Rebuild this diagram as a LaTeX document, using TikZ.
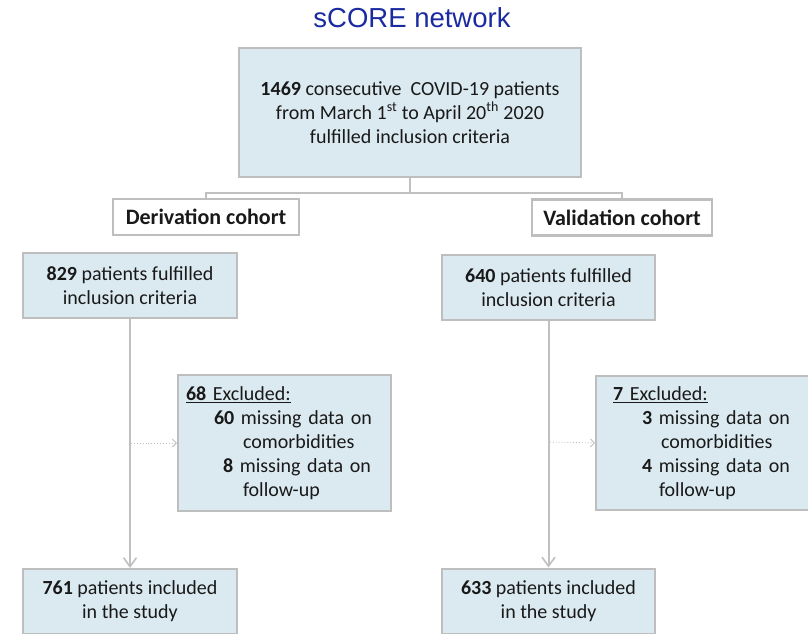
\documentclass[tikz,border=0pt]{standalone}
\usepackage{fontspec}
\setmainfont{Carlito}
\newfontfamily\titlefont{Liberation Sans}
\usetikzlibrary{arrows.meta}

\definecolor{boxfill}{RGB}{219,234,241}
\definecolor{boxline}{RGB}{190,190,190}
\definecolor{linkgray}{RGB}{192,192,192}
\definecolor{titleblue}{RGB}{26,42,160}
\definecolor{ink}{RGB}{25,25,25}

\tikzset{
  x=1pt, y=-1pt,
  flowbox/.style={draw=boxline, line width=2pt, fill=boxfill, text=ink,
    font=\fontsize{20}{24}\selectfont, align=center, inner sep=0pt},
  cohortbox/.style={draw=boxline, line width=2.4pt, fill=white, text=ink,
    font=\fontsize{22}{26}\selectfont\bfseries, inner sep=0pt},
  exclbox/.style={flowbox, align=left},
  link/.style={draw=linkgray, line width=2pt},
  flowarrow/.style={link, -{Straight Barb[length=9pt,width=13pt,line width=1.6pt]}},
  dotarrow/.style={draw=linkgray, line width=0.9pt, dotted,
    -{Straight Barb[length=4pt,width=8pt,line width=0.9pt]}},
}

\begin{document}
\begin{tikzpicture}
\useasboundingbox (0,0) rectangle (808,633);

% title
\node[font=\titlefont\fontsize{27.5}{30}\selectfont, text=titleblue, anchor=base]
  (title) at (412,27) {sCORE network};

% whole cohort
\node[flowbox, minimum width=342pt, minimum height=129pt] (all) at (410,112.5)
  {\textbf{1469} consecutive\ \ COVID-19 patients\\
   from March 1\textsuperscript{st} to April 20\textsuperscript{th} 2020\\
   fulfilled inclusion criteria};

% cohort labels
\node[cohortbox, minimum width=186pt, minimum height=36pt] (deriv) at (206,217) {Derivation cohort};
\node[cohortbox, minimum width=180pt, minimum height=36pt] (valid) at (622,217.5) {Validation cohort};

\coordinate (split) at (410,193);
\draw[link] (all.south) -- (split) -| (deriv.north);
\draw[link] (split) -| (valid.north);

% derivation branch
\node[flowbox, minimum width=214pt, minimum height=65pt] (dIn) at (130,285.5)
  {\textbf{829} patients fulfilled\\ inclusion criteria};
\node[exclbox, minimum width=213pt, minimum height=136pt, text width=197pt] (dEx) at (284.5,443)
  {\underline{\textbf{68} Excluded:}\\
   \hspace*{28pt}\textbf{60} missing data on\\
   \hspace*{57pt}comorbidities\\
   \hspace*{37pt}\textbf{8} missing data on\\
   \hspace*{57pt}follow-up};
\node[flowbox, minimum width=214pt, minimum height=65pt] (dOut) at (130,601.5)
  {\textbf{761} patients included\\ in the study};

\draw[flowarrow] (dIn.south) -- (dOut.north);
\coordinate (dTap) at (131,443);
\draw[dotarrow] (dTap) -- (dEx.west);

% validation branch
\node[flowbox, minimum width=213pt, minimum height=65pt] (vIn) at (548.5,287.5)
  {\textbf{640} patients fulfilled\\ inclusion criteria};
\node[exclbox, minimum width=214pt, minimum height=134pt, text width=180pt] (vEx) at (703,443)
  {\underline{\textbf{7} Excluded:}\\
   \hspace*{29pt}\textbf{3} missing data on\\
   \hspace*{48pt}comorbidities\\
   \hspace*{29pt}\textbf{4} missing data on\\
   \hspace*{46pt}follow-up};
\node[flowbox, minimum width=213pt, minimum height=65pt] (vOut) at (548.5,601)
  {\textbf{633} patients included\\ in the study};

\draw[flowarrow] (vIn.south) -- (vOut.north);
\coordinate (vTap) at (550,442);
\draw[dotarrow] (vTap) -- (vEx.west);
\end{tikzpicture}
\end{document}
